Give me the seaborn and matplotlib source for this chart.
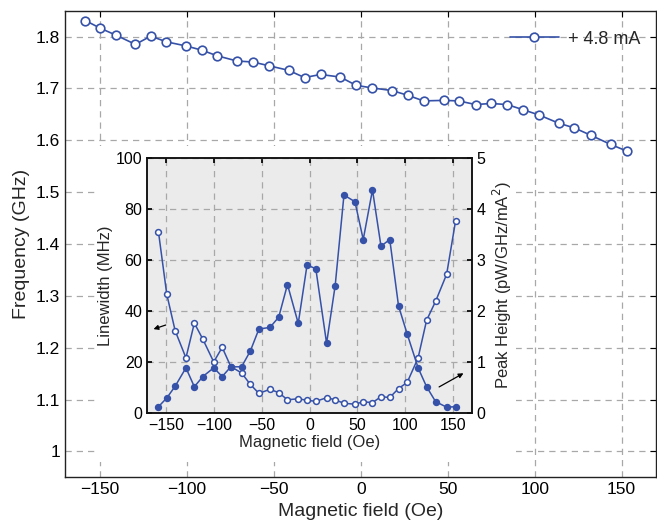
import matplotlib
matplotlib.use("Agg")
import matplotlib.pyplot as plt
import seaborn as sns
import pandas as pd
from matplotlib.patches import Rectangle

# ---- data ----
field = [-158.3, -149.6, -140.8, -129.5, -120.7, -111.8, -100.4, -91.5, -82.5, -71.2,
         -62.0, -53.0, -41.5, -32.3, -23.1, -11.8, -2.6, 6.6, 17.9, 26.9,
         36.1, 47.6, 56.3, 66.0, 74.9, 84.1, 93.3, 102.4, 113.8, 122.7,
         132.1, 143.7, 153.1]
frequency = [1.831, 1.816, 1.803, 1.785, 1.801, 1.790, 1.782, 1.774, 1.763, 1.753,
             1.751, 1.744, 1.735, 1.721, 1.727, 1.722, 1.706, 1.701, 1.696, 1.687,
             1.676, 1.677, 1.676, 1.669, 1.671, 1.669, 1.659, 1.649, 1.633, 1.624,
             1.610, 1.592, 1.579]
linewidth = [71.0, 46.6, 32.3, 21.7, 35.3, 29.0, 20.1, 25.8, 18.3, 15.8,
             11.3, 7.8, 9.4, 8.1, 5.3, 5.7, 5.1, 4.7, 6.1, 5.3,
             3.9, 3.6, 4.5, 4.2, 6.5, 6.2, 9.7, 12.1, 21.7, 36.4,
             43.8, 54.4, 75.3]
peak_height = [0.13, 0.30, 0.53, 0.89, 0.52, 0.72, 0.89, 0.72, 0.91, 0.91,
               1.22, 1.65, 1.68, 1.88, 2.52, 1.76, 2.90, 2.83, 1.37, 2.50,
               4.27, 4.14, 3.40, 4.37, 3.27, 3.40, 2.10, 1.55, 0.89, 0.52,
               0.23, 0.12, 0.13]
series_label = "+ 4.8 mA"
main_xticks = [-150, -100, -50, 0, 50, 100, 150]
main_yticks = [1.0, 1.1, 1.2, 1.3, 1.4, 1.5, 1.6, 1.7, 1.8]
main_yticklabels = ["1", "1.1", "1.2", "1.3", "1.4", "1.5", "1.6", "1.7", "1.8"]
inset_yticks = [0, 20, 40, 60, 80, 100]
inset_y2ticks = [0, 1, 2, 3, 4, 5]

df = pd.DataFrame({"field": field, "frequency": frequency,
                   "linewidth": linewidth, "peak": peak_height})

sns.set_theme(style="white")
plt.rcParams['font.family'] = ['Liberation Sans', 'DejaVu Sans']
plt.rcParams['axes.unicode_minus'] = True

BLUE = "#3551a8"
GRID = "#a8a8a8"

fig = plt.figure(figsize=(6.57, 5.24), dpi=100)
ax = fig.add_axes([0.0989, 0.0891, 0.9003, 0.8905])

sns.lineplot(data=df, x="field", y="frequency", ax=ax, color=BLUE, lw=1.2,
             marker="o", markersize=6.2, markerfacecolor="white",
             markeredgecolor=BLUE, markeredgewidth=1.2, label=series_label,
             zorder=3)
ax.set_xlim(-170, 170)
ax.set_ylim(0.95, 1.85)
ax.set_xticks(main_xticks)
ax.set_yticks(main_yticks)
ax.set_yticklabels(main_yticklabels)
ax.set_xlabel("Magnetic field (Oe)", fontsize=14, labelpad=4)
ax.set_ylabel("Frequency (GHz)", fontsize=14, labelpad=4)
ax.tick_params(axis="both", labelsize=12.5, direction="in", length=4,
               top=True, right=True, width=0.8, colors="black")
ax.grid(True, linestyle=(0, (5, 4)), color=GRID, lw=0.9)
for s in ax.spines.values():
    s.set_color("#222222")
    s.set_linewidth(1.0)
leg = ax.legend(loc="center left", bbox_to_anchor=(0.752, 0.939), frameon=False,
                fontsize=13, handlelength=2.7, handletextpad=0.5, borderpad=0,
                borderaxespad=0)

# white cover behind the inset and its labels
ax.add_patch(Rectangle((0.146, 0.1183), 0.639, 0.603, transform=fig.transFigure,
                       facecolor="white", edgecolor="none", zorder=2.5))

# ---- inset ----
ins = fig.add_axes([0.2242, 0.2112, 0.4938, 0.4878])
ins.set_facecolor("#ebebeb")
sns.lineplot(data=df, x="field", y="linewidth", ax=ins, color=BLUE, lw=1.1,
             marker="o", markersize=4.2, markerfacecolor="white",
             markeredgecolor=BLUE, markeredgewidth=1.1, zorder=3)
ins.set_xlim(-170, 170)
ins.set_ylim(0, 100)
ins.set_xticks(main_xticks)
ins.set_yticks(inset_yticks)
ins.set_xlabel("Magnetic field (Oe)", fontsize=12, labelpad=1)
ins.set_ylabel("Linewidth (MHz)", fontsize=12, labelpad=2)
ins.tick_params(axis="both", labelsize=11.5, direction="in", length=3.5,
                top=True, colors="black")
ins.grid(True, linestyle=(0, (5, 4)), color=GRID, lw=0.9)

ins2 = ins.twinx()
sns.lineplot(data=df, x="field", y="peak", ax=ins2, color=BLUE, lw=1.1,
             marker="o", markersize=4.2, markerfacecolor=BLUE,
             markeredgecolor=BLUE, markeredgewidth=1.1, zorder=3)
ins2.set_ylim(0, 5)
ins2.set_yticks(inset_y2ticks)
ins2.set_ylabel("Peak Height (pW/GHz/mA$^2$)", fontsize=12, labelpad=4)
ins2.tick_params(axis="y", labelsize=11.5, direction="in", length=3.5, colors="black")
for a in (ins, ins2):
    for s in a.spines.values():
        s.set_color("#111111")
        s.set_linewidth(1.1)

ins.annotate("", xy=(0.011, 0.326), xytext=(0.065, 0.349), xycoords="axes fraction",
             arrowprops=dict(arrowstyle="-|>", color="black", lw=0.9,
                             mutation_scale=7))
ins.annotate("", xy=(0.982, 0.162), xytext=(0.892, 0.098), xycoords="axes fraction",
             arrowprops=dict(arrowstyle="-|>", color="black", lw=0.9,
                             mutation_scale=7))

fig.savefig("out.png", dpi=100)
